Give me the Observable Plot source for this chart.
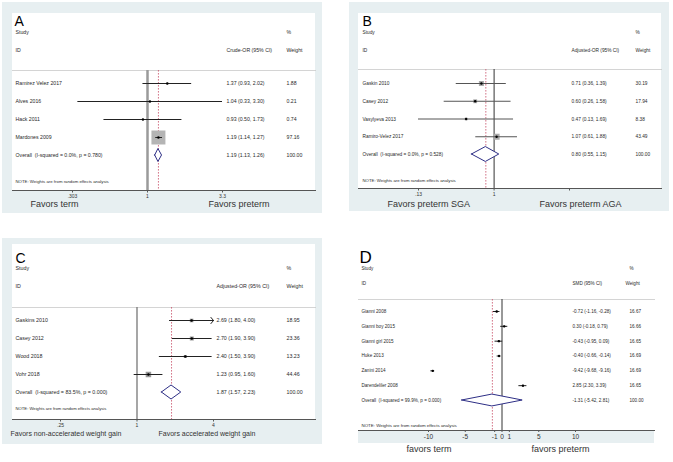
<!DOCTYPE html>
<html><head><meta charset="utf-8">
<script src="https://cdn.jsdelivr.net/npm/d3@7"></script>
<script src="https://cdn.jsdelivr.net/npm/@observablehq/plot@0.6"></script>
<style>
body{margin:0;background:#fff;font-family:"Liberation Sans",Arial,sans-serif;}
#root{position:relative;width:673px;height:462px;overflow:hidden;background:#fff;}
.bg{position:absolute;background:#e7eff1;}
.wh{position:absolute;background:#fff;}
.panel{position:absolute;}
</style></head><body>
<div id="root">
  <div class="bg" style="left:2px;top:2px;width:320px;height:211px"></div>
  <div class="wh" style="left:12px;top:13px;width:303px;height:177px"></div>
  <div class="bg" style="left:349px;top:2px;width:320px;height:209px"></div>
  <div class="wh" style="left:358px;top:13px;width:303px;height:175px"></div>
  <div class="bg" style="left:2px;top:238px;width:320px;height:206px"></div>
  <div class="wh" style="left:12px;top:244px;width:303px;height:175px"></div>
  <div class="bg" style="left:358px;top:430px;width:296px;height:13px"></div>
  <div id="pA" class="panel" style="left:0px;top:0px"></div>
  <div id="pB" class="panel" style="left:336px;top:0px"></div>
  <div id="pC" class="panel" style="left:0px;top:231px"></div>
  <div id="pD" class="panel" style="left:336px;top:231px"></div>
</div>
<script>
// ---------- Panel A ----------
const studiesA = ["Ramirez Velez 2017", "Alves 2016", "Hack 2011", "Mardones 2009"];
const estA = [1.37, 1.04, 0.93, 1.19];
const loA = [0.93, 0.33, 0.50, 1.14];
const hiA = [2.02, 3.30, 1.73, 1.27];
const weightA = [1.88, 0.21, 0.74, 97.16];
const overallA = [1.19, 1.13, 1.26];
const overallLabelA = "Overall  (I-squared = 0.0%, p = 0.780)";
const effectA = "Crude-OR (95% CI)";
const ticksA = [0.303, 1, 3.3];
const tickLabelsA = [".303", "1", "3.3"];
const favorsA = ["Favors term", "Favors preterm"];

// ---------- Panel B ----------
const studiesB = ["Gaskin 2010", "Casey 2012", "Vasylyeva 2013", "Ramiro-Velez 2017"];
const estB = [0.71, 0.60, 0.47, 1.07];
const loB = [0.36, 0.26, 0.13, 0.61];
const hiB = [1.39, 1.58, 1.69, 1.88];
const weightB = [30.19, 17.94, 8.38, 43.49];
const overallB = [0.80, 0.55, 1.15];
const overallLabelB = "Overall  (I-squared = 0.0%, p = 0.528)";
const effectB = "Adjusted-OR (95% CI)";
const ticksB = [0.13, 1, 7.65];
const tickLabelsB = [".13", "1", "7.65"];
const favorsB = ["Favors preterm SGA", "Favors preterm AGA"];

// ---------- Panel C ----------
const studiesC = ["Gaskins 2010", "Casey 2012", "Wood 2018", "Vohr 2018"];
const estC = [2.69, 2.70, 2.40, 1.23];
const loC = [1.80, 1.90, 1.50, 0.95];
const hiC = [4.00, 3.90, 3.90, 1.60];
const weightC = [18.95, 23.36, 13.23, 44.46];
const overallC = [1.87, 1.57, 2.23];
const overallLabelC = "Overall  (I-squared = 83.5%, p = 0.000)";
const effectC = "Adjusted-OR (95% CI)";
const ticksC = [0.25, 1, 4];
const tickLabelsC = [".25", "1", "4"];
const favorsC = ["Favors non-accelerated weight gain", "Favors accelerated weight gain"];

// ---------- Panel D ----------
const studiesD = ["Gianni 2008", "Gianni boy 2015", "Gianni girl 2015", "Huke 2013", "Zanini 2014", "Darendeliler 2008"];
const estD = [-0.72, 0.30, -0.43, -0.40, -9.42, 2.85];
const loD = [-1.16, -0.18, -0.95, -0.66, -9.68, 2.30];
const hiD = [-0.28, 0.79, 0.09, -0.14, -9.16, 3.39];
const weightD = [16.67, 16.66, 16.65, 16.69, 16.69, 16.65];
const overallD = [-1.31, -5.42, 2.81];
const overallLabelD = "Overall  (I-squared = 99.9%, p = 0.000)";
const effectD = "SMD (95% CI)";
const ticksD = [-10, -5, -1, 0, 1, 5, 10];
const tickLabelsD = ["-10", "-5", "-1", "0", "1", "5", "10"];
const favorsD = ["favors term", "favors preterm"];

const noteText = "NOTE: Weights are from random effects analysis";
const fmt = v => v.toFixed(2);
const navy = "#2e2f86";
const red = "#c8506a";
const txt = "#2a2a2a";
const FONT = '"Liberation Sans", Arial, sans-serif';

function forest(d, g) {
  const n = d.studies.length;
  const rows = d.studies.map((s, i) => ({
    i, study: s, est: d.est[i], lo: d.lo[i], hi: d.hi[i], w: d.weight[i],
    ci: `${fmt(d.est[i])} (${fmt(d.lo[i])}, ${fmt(d.hi[i])})`, wt: fmt(d.weight[i])
  }));
  const [oe, ol, oh] = d.overall;
  const allRows = rows.concat([{i: n, study: d.overallLabel, ci: `${fmt(oe)} (${fmt(ol)}, ${fmt(oh)})`, wt: "100.00"}]);
  const xMax = d.ticks[d.ticks.length - 1];
  const arrowRows = rows.filter(r => g.arrowAtMax && r.hi >= xMax);
  const lineRows = rows.filter(r => !(g.arrowAtMax && r.hi >= xMax));
  const dia = [
    {x: ol, y1: n, y2: n},
    {x: oe, y1: n - g.dh, y2: n + g.dh},
    {x: oh, y1: n, y2: n}
  ];
  const labelMap = new Map(d.ticks.map((t, k) => [t, d.tickLabels[k]]));
  const T = (data, opts) => Plot.text(data, {fontSize: g.fs, fill: txt, textAnchor: "start", fontWeight: "normal", ...opts});
  const top = (text, x, y, extra = {}) => T([text], {frameAnchor: "top-left", dx: x - g.l, dy: y - g.t, ...extra});

  return Plot.plot({
    width: g.W, height: g.H,
    marginLeft: g.l, marginRight: g.W - g.r, marginTop: g.t, marginBottom: g.H - g.b,
    x: {type: g.xType, domain: [d.ticks[0], xMax], range: g.xRange},
    y: {domain: [0, n], range: g.yRange, axis: null},
    r: {domain: [0, d3.max(d.weight)], range: [0, g.rMax]},
    style: {background: "transparent", fontFamily: FONT, overflow: "visible", fontWeight: "normal"},
    marks: [
      Plot.frame({anchor: "top", stroke: "#c9c9c9", strokeWidth: 0.8}),
      Plot.ruleX([g.nullValue], {stroke: g.nullStroke, strokeWidth: g.nullWidth}),
      Plot.ruleX([oe], {stroke: red, strokeWidth: 0.8, strokeDasharray: "1.6,1.4"}),
      Plot.dot(rows, {x: "est", y: "i", r: "w", symbol: "square", fill: g.sqFill, stroke: "none"}),
      Plot.ruleY(lineRows, {y: "i", x1: "lo", x2: "hi", stroke: g.ciStroke, strokeWidth: 1}),
      Plot.arrow(arrowRows, {x1: "lo", x2: "hi", y1: "i", y2: "i", stroke: g.ciStroke, strokeWidth: 1, headLength: 6, headAngle: 100}),
      Plot.dot(rows, {x: "est", y: "i", r: 1.2, fill: "#000", stroke: "none"}),
      Plot.areaY(dia, {x: "x", y1: "y1", y2: "y2", fill: "white", stroke: navy, strokeWidth: 1}),
      T(allRows, {y: "i", text: "study", frameAnchor: "left", dx: g.colStudy - g.l}),
      T(allRows, {y: "i", text: "ci", frameAnchor: "left", dx: g.colCI - g.l}),
      T(allRows, {y: "i", text: "wt", frameAnchor: "left", dx: g.colW - g.l}),
      top(d.letter, g.xLetter, g.yLetter, {fontSize: g.letterFs, fill: "#000"}),
      top("Study", g.colStudy, g.yStudy),
      top("%", g.colPct, g.yStudy),
      top("ID", g.colStudy, g.yID),
      top(d.effect, g.colCI, g.yID),
      top("Weight", g.colWhead, g.yID),
      top(noteText, g.colStudy, g.yNote, {fontSize: g.noteFs}),
      Plot.axisX({ticks: d.ticks, tickFormat: v => labelMap.get(v), tickSize: g.tickSize, tickPadding: 1.5,
                  fontSize: g.tickFs, label: null, color: "#333", strokeWidth: 0.8}),
      Plot.frame({anchor: "bottom", stroke: "#555", strokeWidth: 1}),
      T([d.favors[0]], {frameAnchor: "bottom-left", dx: g.fav[0] - g.l, dy: g.yFav - g.b, fontSize: g.favFs, fill: "#333"}),
      T([d.favors[1]], {frameAnchor: "bottom-left", dx: g.fav[1] - g.l, dy: g.yFav - g.b, fontSize: g.favFs, fill: "#333"})
    ]
  });
}

const dataA = {letter: "A", studies: studiesA, est: estA, lo: loA, hi: hiA, weight: weightA, overall: overallA,
  overallLabel: overallLabelA, effect: effectA, ticks: ticksA, tickLabels: tickLabelsA, favors: favorsA};
const dataB = {letter: "B", studies: studiesB, est: estB, lo: loB, hi: hiB, weight: weightB, overall: overallB,
  overallLabel: overallLabelB, effect: effectB, ticks: ticksB, tickLabels: tickLabelsB, favors: favorsB};
const dataC = {letter: "C", studies: studiesC, est: estC, lo: loC, hi: hiC, weight: weightC, overall: overallC,
  overallLabel: overallLabelC, effect: effectC, ticks: ticksC, tickLabels: tickLabelsC, favors: favorsC};
const dataD = {letter: "D", studies: studiesD, est: estD, lo: loD, hi: hiD, weight: weightD, overall: overallD,
  overallLabel: overallLabelD, effect: effectD, ticks: ticksD, tickLabels: tickLabelsD, favors: favorsD};

const gA = {W: 336, H: 231, l: 12, r: 315, t: 70, b: 190, xType: "log", xRange: [72, 222], yRange: [83, 155],
  rMax: 7.9, dh: 0.36, colStudy: 15, colCI: 226, colW: 286, colPct: 286, colWhead: 286,
  xLetter: 14, yLetter: 16, letterFs: 14, yStudy: 30, yID: 48, yNote: 179, yFav: 206, fav: [30, 208],
  fs: 5.2, noteFs: 4.3, tickFs: 5, favFs: 9, nullValue: 1, nullStroke: "#9a9a9a", nullWidth: 2.5,
  ciStroke: "#222", sqFill: "#b4b4b4", arrowAtMax: false, tickSize: 2.5};
const gB = {W: 337, H: 231, l: 22, r: 325, t: 69, b: 188, xType: "log", xRange: [82, 233], yRange: [83, 154],
  rMax: 3.4, dh: 0.42, colStudy: 26, colCI: 235, colW: 299, colPct: 299, colWhead: 299,
  xLetter: 26, yLetter: 16, letterFs: 14, yStudy: 30, yID: 48, yNote: 178, yFav: 206, fav: [51, 203],
  fs: 4.8, noteFs: 4.3, tickFs: 5, favFs: 9, nullValue: 1, nullStroke: "#333", nullWidth: 1,
  ciStroke: "#555", sqFill: "#aaa", arrowAtMax: false, tickSize: 2.5};
const gC = {W: 336, H: 231, l: 12, r: 315, t: 76, b: 188, xType: "log", xRange: [60, 213], yRange: [89, 161],
  rMax: 3.1, dh: 0.39, colStudy: 15, colCI: 216, colW: 286, colPct: 286, colWhead: 286,
  xLetter: 15, yLetter: 22, letterFs: 14, yStudy: 35, yID: 53, yNote: 176, yFav: 204, fav: [10, 158],
  fs: 5.3, noteFs: 4.2, tickFs: 5, favFs: 7, nullValue: 1, nullStroke: "#777", nullWidth: 1.3,
  ciStroke: "#222", sqFill: "#999", arrowAtMax: true, tickSize: 2.5};
const gD = {W: 337, H: 231, l: 22, r: 318, t: 68, b: 199, xType: "linear", xRange: [92, 239], yRange: [80, 169],
  rMax: 1.0, dh: 0.4, colStudy: 25, colCI: 236, colW: 293, colPct: 293, colWhead: 289,
  xLetter: 23, yLetter: 19, letterFs: 17, yStudy: 35, yID: 50, yNote: 192, yFav: 220, fav: [70, 195],
  fs: 4.6, noteFs: 4.4, tickFs: 6.5, favFs: 9, nullValue: 0, nullStroke: "#333", nullWidth: 1,
  ciStroke: "#222", sqFill: "#999", arrowAtMax: false, tickSize: 2};

document.getElementById("pA").append(forest(dataA, gA));
document.getElementById("pB").append(forest(dataB, gB));
document.getElementById("pC").append(forest(dataC, gC));
document.getElementById("pD").append(forest(dataD, gD));
</script>
</body></html>
